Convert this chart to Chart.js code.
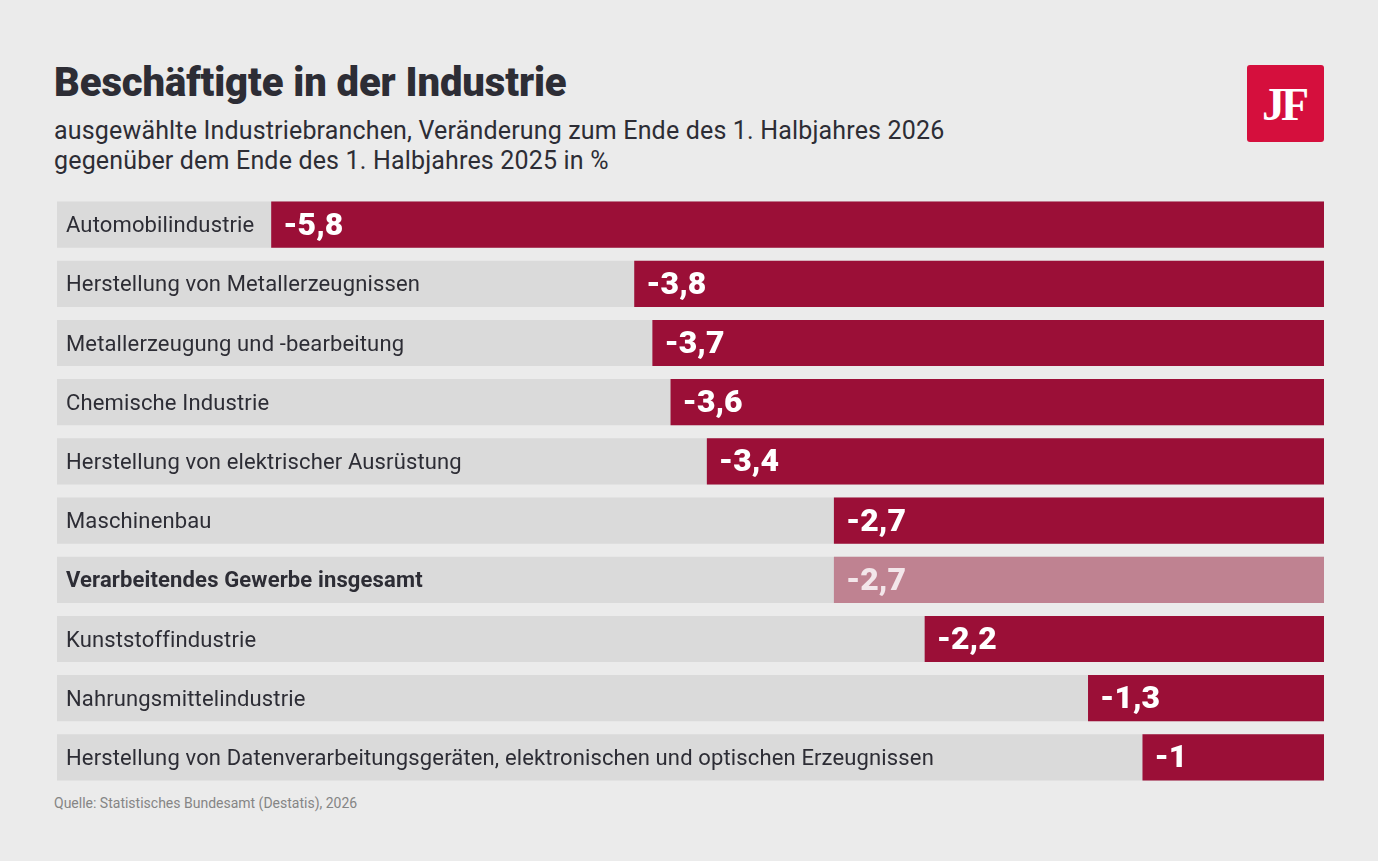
<!DOCTYPE html>
<html lang="de">
<head>
<meta charset="utf-8">
<script src="https://cdn.jsdelivr.net/npm/chart.js@4"></script>
<style>
  html, body { margin: 0; padding: 0; }
  body {
    width: 1378px; height: 861px; background: #ebebeb; position: relative;
    font-family: Roboto, "Noto Sans", sans-serif; color: #2d2d35; overflow: hidden;
  }
  h1 {
    position: absolute; left: 54px; top: 60px; margin: 0;
    font-size: 40px; line-height: 46px; font-weight: 900; letter-spacing: -0.1px;
  }
  .sub {
    position: absolute; left: 54px; top: 116px; margin: 0;
    font-size: 25px; line-height: 30px; font-weight: 400; letter-spacing: 0.17px;
  }
  .logo {
    position: absolute; left: 1247px; top: 65px; width: 77px; height: 77px;
    background: #d50f3d; border-radius: 3px; color: #fff;
    font-family: "Liberation Serif", "DejaVu Serif", serif; font-size: 46px; font-weight: bold;
    text-align: center; line-height: 80px; letter-spacing: -4px; text-indent: -4px;
  }
  .source {
    position: absolute; left: 54px; top: 795px; font-size: 14px; color: #858585;
  }
  .wrap { position: absolute; left: 57px; top: 195px; width: 1267px; height: 592px; }
</style>
</head>
<body>
<h1>Beschäftigte in der Industrie</h1>
<p class="sub">ausgewählte Industriebranchen, Veränderung zum Ende des 1. Halbjahres 2026<br>gegenüber dem Ende des 1. Halbjahres 2025 in %</p>
<div class="logo">JF</div>
<div class="wrap"><canvas id="chart"></canvas></div>
<div class="source">Quelle: Statistisches Bundesamt (Destatis), 2026</div>

<script>
const categories = [
    'Automobilindustrie',
    'Herstellung von Metallerzeugnissen',
    'Metallerzeugung und -bearbeitung',
    'Chemische Industrie',
    'Herstellung von elektrischer Ausrüstung',
    'Maschinenbau',
    'Verarbeitendes Gewerbe insgesamt',
    'Kunststoffindustrie',
    'Nahrungsmittelindustrie',
    'Herstellung von Datenverarbeitungsgeräten, elektronischen und optischen Erzeugnissen'
];
const changeValues = [-5.8, -3.8, -3.7, -3.6, -3.4, -2.7, -2.7, -2.2, -1.3, -1];
const totalIndex = 6; // 'Verarbeitendes Gewerbe insgesamt'
const axisMin = -6.98;

const RED = '#9b0f37';
const RED_LIGHT = '#bf8291';
const GREY = '#dadada';

// draws category names and the value labels
const labelPlugin = {
    id: 'barLabels',
    afterDatasetsDraw(chart) {
        const ctx = chart.ctx;
        const bgMeta = chart.getDatasetMeta(0);
        const valMeta = chart.getDatasetMeta(1);
        ctx.save();
        ctx.textBaseline = 'middle';
        categories.forEach((name, i) => {
            const bg = bgMeta.data[i];
            const bar = valMeta.data[i];
            const bold = i === totalIndex;
            ctx.fillStyle = '#2d2d35';
            ctx.font = (bold ? 'bold ' : '') + '22px Roboto, "Noto Sans", sans-serif';
            ctx.letterSpacing = '0.14px';
            ctx.textAlign = 'left';
            ctx.fillText(name, bg.x + 9, bg.y + 2);

            ctx.fillStyle = bold ? '#f3e6ea' : '#ffffff';
            ctx.font = '900 32px Roboto, "Noto Sans", sans-serif';
            ctx.letterSpacing = '0px';
            const txt = String(changeValues[i]).replace('.', ',');
            ctx.fillText(txt, bar.x + 12, bar.y + 2);
        });
        ctx.restore();
    }
};

new Chart(document.getElementById('chart'), {
    type: 'bar',
    data: {
        labels: categories,
        datasets: [{
            label: 'Hintergrund',
            data: categories.map(() => axisMin),
            backgroundColor: GREY,
            grouped: false,
            order: 2
        }, {
            label: 'Veränderung in %',
            data: changeValues,
            backgroundColor: changeValues.map((v, i) => i === totalIndex ? RED_LIGHT : RED),
            grouped: false,
            order: 1
        }]
    },
    options: {
        indexAxis: 'y',
        responsive: true,
        maintainAspectRatio: false,
        animation: false,
        layout: { padding: 0 },
        datasets: {
            bar: { barPercentage: 0.78, categoryPercentage: 1.0, borderWidth: 0 }
        },
        plugins: {
            legend: { display: false },
            tooltip: { enabled: false }
        },
        scales: {
            x: { display: false, min: axisMin, max: 0 },
            y: { display: false }
        }
    },
    plugins: [labelPlugin]
});
</script>
</body>
</html>
